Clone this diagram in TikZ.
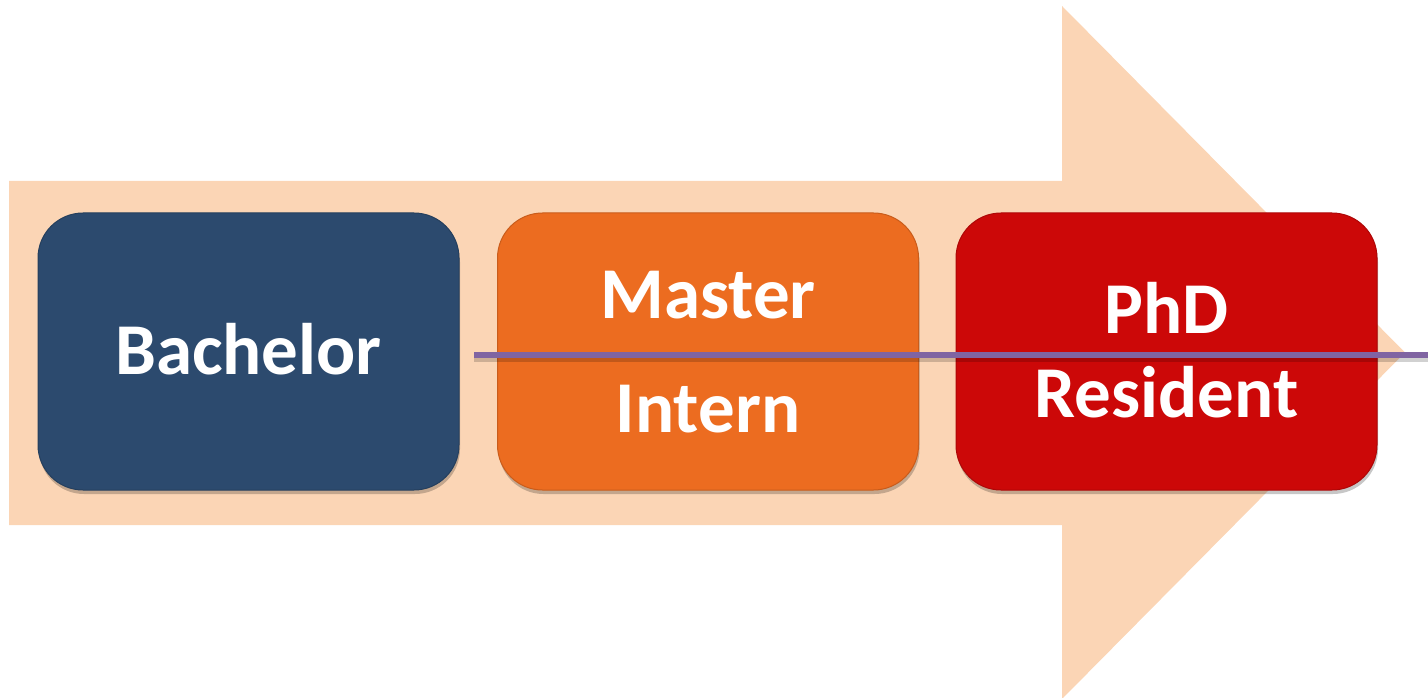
\documentclass[tikz,border=0pt]{standalone}
\usepackage{fontspec}
\setmainfont{Carlito}
\usetikzlibrary{shadows}
\definecolor{arrowfill}{HTML}{FBD5B5}
\definecolor{bachc}{HTML}{2C4A6E}
\definecolor{mastc}{HTML}{EC6C20}
\definecolor{phdc}{HTML}{CC0808}
\definecolor{linec}{HTML}{8064A2}
\tikzset{
  stage/.style={draw=#1!85!black, line width=1pt, fill=#1, rounded corners=45pt,
    minimum width=421pt, minimum height=277pt, inner sep=0pt,
    drop shadow={shadow xshift=1pt, shadow yshift=-4pt, opacity=0.22, fill=black}},
  lab/.style={text=white, font=\fontsize{73}{80}\selectfont\bfseries, anchor=base, inner sep=0pt},
  track/.style={draw=linec, line width=6pt, preaction={draw=black, opacity=0.18, line width=6pt, transform canvas={yshift=-4pt}}}
}
\begin{document}
\begin{tikzpicture}[x=1pt,y=-1pt]
\useasboundingbox (0,0) rectangle (1428,698);
\fill[arrowfill] (9,181) -- (1062,181) -- (1062,6) -- (1405,352.5) -- (1062,699) -- (1062,525) -- (9,525) -- cycle;
\node[stage=bachc] (bach) at (248.5,351.5) {};
\node[stage=mastc] (mast) at (708,351.5) {};
\node[stage=phdc] (phd) at (1166.5,351.5) {};
\node[lab] (tbach) at (248.5,374) {Bachelor};
\node[lab] (tmast) at (708,318) {Master};
\node[lab] (tint) at (708,432) {Intern};
\node[lab] (tphd) at (1166.5,333) {PhD};
\node[lab] (tres) at (1166.5,417) {Resident};
\coordinate (ls) at (474,354.5);
\coordinate (le) at (1428,354.5);
\draw[track] (ls) -- (le);
\end{tikzpicture}
\end{document}
